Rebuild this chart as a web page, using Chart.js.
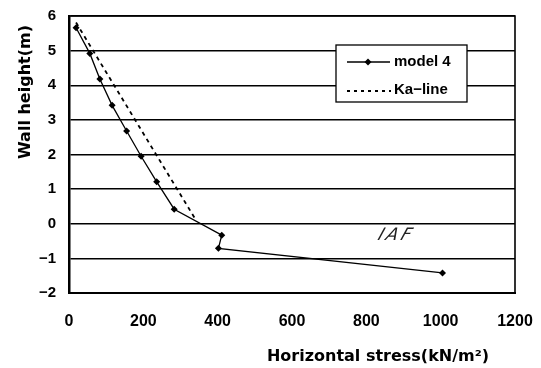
<!DOCTYPE html>
<html><head><meta charset="utf-8">
<script src="https://cdn.jsdelivr.net/npm/chart.js@4"></script>
<style>html,body{margin:0;padding:0;background:#fff}#w{width:541px;height:368px}</style>
</head><body><div id="w"><canvas id="c"></canvas></div>
<script>
const model4Stress = [19, 56, 83, 116, 155, 194, 236, 283, 411, 402, 1005];
const model4Height = [5.66, 4.92, 4.18, 3.42, 2.68, 1.95, 1.21, 0.42, -0.33, -0.71, -1.42];
const kaStress = [19, 339];
const kaHeight = [5.81, 0.15];
const xTicks = [0, 200, 400, 600, 800, 1000, 1200];
const yTicks = [-2, -1, 0, 1, 2, 3, 4, 5, 6];
const seriesNames = ["model 4", "Ka\u2212line"];
const xTitle = "Horizontal stress(kN/m\u00B2)";
const yTitle = "Wall height(m)";
const note = "IAF";

const pts = (xs, ys) => xs.map((x, i) => ({x, y: ys[i]}));

const extras = {
  id: 'extras',
  afterDraw(chart) {
    const ctx = chart.ctx, a = chart.chartArea;
    ctx.save();
    ctx.strokeStyle = '#000'; ctx.lineWidth = 1.6;
    ctx.beginPath();
    ctx.moveTo(a.left, a.top); ctx.lineTo(a.right, a.top); ctx.lineTo(a.right, a.bottom);
    ctx.stroke();
    // legend box
    const bx = 336, by = 45, bw = 131, bh = 57;
    ctx.fillStyle = '#fff'; ctx.fillRect(bx, by, bw, bh);
    ctx.lineWidth = 1.3; ctx.strokeRect(bx, by, bw, bh);
    ctx.beginPath(); ctx.moveTo(347, 62); ctx.lineTo(390, 62); ctx.stroke();
    ctx.fillStyle = '#000';
    ctx.beginPath(); ctx.moveTo(368, 58.5); ctx.lineTo(371.5, 62); ctx.lineTo(368, 65.5); ctx.lineTo(364.5, 62); ctx.closePath(); ctx.fill();
    ctx.setLineDash([3, 4]); ctx.lineWidth = 1.8;
    ctx.beginPath(); ctx.moveTo(347, 91); ctx.lineTo(391, 91); ctx.stroke();
    ctx.setLineDash([]);
    ctx.font = 'bold 15px "Liberation Sans"';
    ctx.textBaseline = 'middle'; ctx.textAlign = 'left';
    ctx.fillText(seriesNames[0], 394, 62);
    ctx.fillText(seriesNames[1], 394, 90);
    // axis titles
    ctx.font = 'bold 16px "DejaVu Sans"';
    ctx.textAlign = 'center';
    ctx.fillText(xTitle, 378, 357);
    ctx.save();
    ctx.translate(26, 92); ctx.rotate(-Math.PI / 2);
    ctx.fillText(yTitle, 0, 0);
    ctx.restore();
    // annotation
    ctx.font = '17px "DejaVu Sans"';
    ctx.letterSpacing = '3px';
    ctx.fillStyle = '#222';
    ctx.save();
    ctx.translate(396, 236); ctx.transform(1, 0, -0.55, 1, 0, 0);
    ctx.fillText(note, 0, 0);
    ctx.restore();
    ctx.restore();
  }
};

new Chart(document.getElementById('c'), {
  type: 'scatter',
  data: {
    datasets: [
      {label: seriesNames[0], data: pts(model4Stress, model4Height), showLine: true,
       borderColor: '#000', backgroundColor: '#000', borderWidth: 1.3,
       pointStyle: 'rectRot', pointRadius: 3.5, pointBorderWidth: 0},
      {label: seriesNames[1], data: pts(kaStress, kaHeight), showLine: true,
       borderColor: '#000', borderWidth: 1.8, borderDash: [4, 4], pointRadius: 0}
    ]
  },
  options: {
    responsive: true, maintainAspectRatio: false, animation: false,
    layout: {padding: {left: 0, right: 26, top: 16, bottom: 0}},
    plugins: {legend: {display: false}, tooltip: {enabled: false}},
    scales: {
      x: {
        type: 'linear', min: 0, max: 1200,
        afterBuildTicks: s => { s.ticks = xTicks.map(v => ({value: v})); },
        afterFit: s => { s.height = 75; s.paddingLeft = 0; s.paddingRight = 0; },
        grid: {display: false, drawTicks: false},
        border: {display: true, color: '#000', width: 2},
        ticks: {color: '#000', padding: 19, font: {family: 'Liberation Sans', size: 16, weight: 'bold'},
                callback: v => String(v)}
      },
      y: {
        type: 'linear', min: -2, max: 6,
        afterBuildTicks: s => { s.ticks = yTicks.map(v => ({value: v})); },
        afterFit: s => { s.width = 69; s.paddingTop = 0; s.paddingBottom = 0; },
        grid: {color: '#000', lineWidth: 1.5, drawTicks: false},
        border: {display: true, color: '#000', width: 2.5},
        ticks: {color: '#000', padding: 13, font: {family: 'Liberation Sans', size: 15, weight: 'bold'},
                callback: v => String(v).replace('-', '\u2212')}
      }
    }
  },
  plugins: [extras]
});
</script></body></html>
